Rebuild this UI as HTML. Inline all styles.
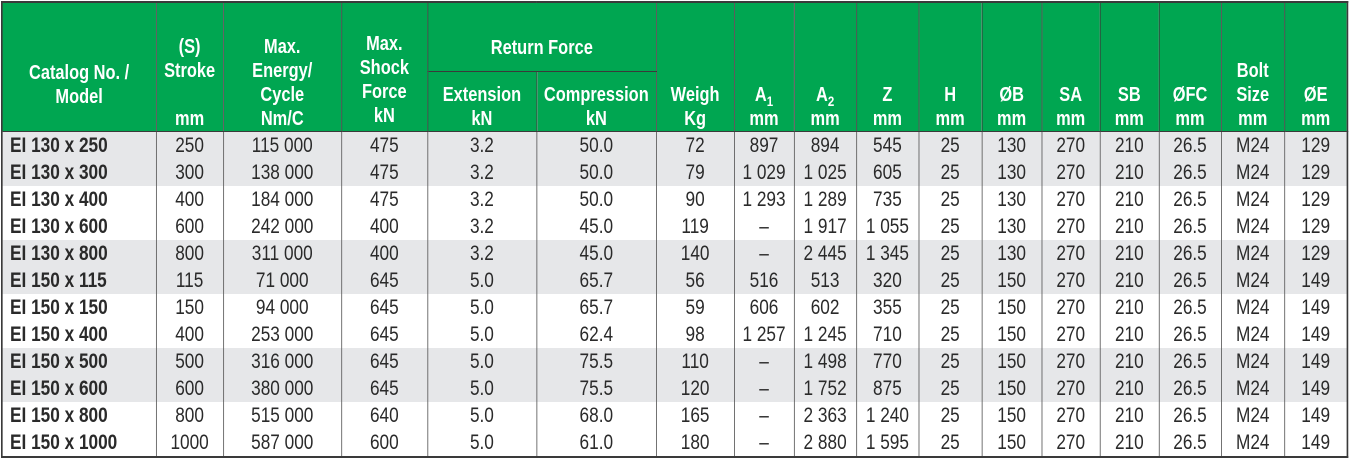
<!DOCTYPE html>
<html><head><meta charset="utf-8"><style>
body{margin:0;background:#fff;width:1350px;height:458px;overflow:hidden}
table{position:absolute;left:1px;top:1px;transform:scaleX(0.82);transform-origin:0 0;border-collapse:collapse;table-layout:fixed;width:1641px;font-family:"Liberation Sans",sans-serif;border:2.4px solid #3a3a3a}
th{background:#00a651;color:#fff;font-weight:bold;font-size:20px;line-height:24px;border:1.8px solid #3a3a3a;vertical-align:bottom;padding:0 0 0 0;text-align:center;overflow:hidden}
td{font-size:21px;color:#2a2a2a;text-align:center;height:27px;padding:0;border-left:1.8px solid #555;border-right:1.8px solid #555;line-height:27px;white-space:nowrap}
td.m{text-align:left;font-weight:bold;padding-left:9px}
tr.g td{background:#e6e7e9}
sub{font-size:14px;vertical-align:-5px;line-height:0}
</style></head><body>
<table>
<colgroup><col style="width:188px"><col style="width:82px"><col style="width:144px"><col style="width:105px"><col style="width:133px"><col style="width:146px"><col style="width:95px"><col style="width:73px"><col style="width:76px"><col style="width:76px"><col style="width:77px"><col style="width:73px"><col style="width:71px"><col style="width:72px"><col style="width:76px"><col style="width:77px"><col style="width:77px"></colgroup>
<thead>
<tr style="height:69px">
<th rowspan="2" style="padding-bottom:22px">Catalog No. /<br>Model</th>
<th rowspan="2">(S)<br>Stroke<br><br>mm</th>
<th rowspan="2">Max.<br>Energy/<br>Cycle<br>Nm/C</th>
<th rowspan="2" style="padding-bottom:3px">Max.<br>Shock<br>Force<br>kN</th>
<th colspan="2" style="vertical-align:middle;padding-top:22px">Return Force</th>
<th rowspan="2">Weigh<br>Kg</th>
<th rowspan="2">A<sub>1</sub><br>mm</th>
<th rowspan="2">A<sub>2</sub><br>mm</th>
<th rowspan="2">Z<br>mm</th>
<th rowspan="2">H<br>mm</th>
<th rowspan="2">ØB<br>mm</th>
<th rowspan="2">SA<br>mm</th>
<th rowspan="2">SB<br>mm</th>
<th rowspan="2">ØFC<br>mm</th>
<th rowspan="2">Bolt<br>Size<br>mm</th>
<th rowspan="2">ØE<br>mm</th>
</tr>
<tr style="height:60px">
<th>Extension<br>kN</th>
<th>Compression<br>kN</th>
</tr>
</thead>
<tbody>
<tr class="g"><td class="m">EI 130 x 250</td><td>250</td><td>115 000</td><td>475</td><td>3.2</td><td>50.0</td><td>72</td><td>897</td><td>894</td><td>545</td><td>25</td><td>130</td><td>270</td><td>210</td><td>26.5</td><td>M24</td><td>129</td></tr>
<tr class="g"><td class="m">EI 130 x 300</td><td>300</td><td>138 000</td><td>475</td><td>3.2</td><td>50.0</td><td>79</td><td>1 029</td><td>1 025</td><td>605</td><td>25</td><td>130</td><td>270</td><td>210</td><td>26.5</td><td>M24</td><td>129</td></tr>
<tr><td class="m">EI 130 x 400</td><td>400</td><td>184 000</td><td>475</td><td>3.2</td><td>50.0</td><td>90</td><td>1 293</td><td>1 289</td><td>735</td><td>25</td><td>130</td><td>270</td><td>210</td><td>26.5</td><td>M24</td><td>129</td></tr>
<tr><td class="m">EI 130 x 600</td><td>600</td><td>242 000</td><td>400</td><td>3.2</td><td>45.0</td><td>119</td><td>–</td><td>1 917</td><td>1 055</td><td>25</td><td>130</td><td>270</td><td>210</td><td>26.5</td><td>M24</td><td>129</td></tr>
<tr class="g"><td class="m">EI 130 x 800</td><td>800</td><td>311 000</td><td>400</td><td>3.2</td><td>45.0</td><td>140</td><td>–</td><td>2 445</td><td>1 345</td><td>25</td><td>130</td><td>270</td><td>210</td><td>26.5</td><td>M24</td><td>129</td></tr>
<tr class="g"><td class="m">EI 150 x 115</td><td>115</td><td>71 000</td><td>645</td><td>5.0</td><td>65.7</td><td>56</td><td>516</td><td>513</td><td>320</td><td>25</td><td>150</td><td>270</td><td>210</td><td>26.5</td><td>M24</td><td>149</td></tr>
<tr><td class="m">EI 150 x 150</td><td>150</td><td>94 000</td><td>645</td><td>5.0</td><td>65.7</td><td>59</td><td>606</td><td>602</td><td>355</td><td>25</td><td>150</td><td>270</td><td>210</td><td>26.5</td><td>M24</td><td>149</td></tr>
<tr><td class="m">EI 150 x 400</td><td>400</td><td>253 000</td><td>645</td><td>5.0</td><td>62.4</td><td>98</td><td>1 257</td><td>1 245</td><td>710</td><td>25</td><td>150</td><td>270</td><td>210</td><td>26.5</td><td>M24</td><td>149</td></tr>
<tr class="g"><td class="m">EI 150 x 500</td><td>500</td><td>316 000</td><td>645</td><td>5.0</td><td>75.5</td><td>110</td><td>–</td><td>1 498</td><td>770</td><td>25</td><td>150</td><td>270</td><td>210</td><td>26.5</td><td>M24</td><td>149</td></tr>
<tr class="g"><td class="m">EI 150 x 600</td><td>600</td><td>380 000</td><td>645</td><td>5.0</td><td>75.5</td><td>120</td><td>–</td><td>1 752</td><td>875</td><td>25</td><td>150</td><td>270</td><td>210</td><td>26.5</td><td>M24</td><td>149</td></tr>
<tr><td class="m">EI 150 x 800</td><td>800</td><td>515 000</td><td>640</td><td>5.0</td><td>68.0</td><td>165</td><td>–</td><td>2 363</td><td>1 240</td><td>25</td><td>150</td><td>270</td><td>210</td><td>26.5</td><td>M24</td><td>149</td></tr>
<tr><td class="m">EI 150 x 1000</td><td>1000</td><td>587 000</td><td>600</td><td>5.0</td><td>61.0</td><td>180</td><td>–</td><td>2 880</td><td>1 595</td><td>25</td><td>150</td><td>270</td><td>210</td><td>26.5</td><td>M24</td><td>149</td></tr>
</tbody>
</table>
</body></html>
